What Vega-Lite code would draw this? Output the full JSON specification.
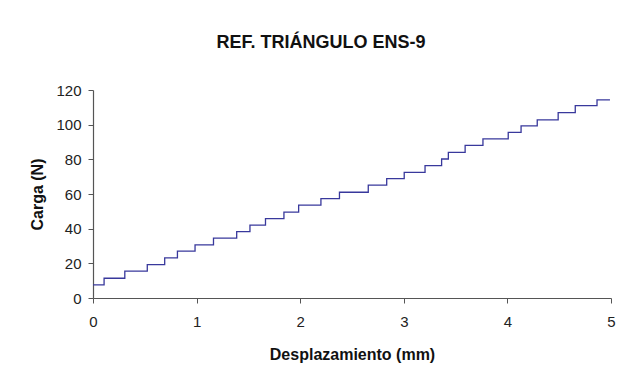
{
  "$schema": "https://vega.github.io/schema/vega-lite/v6.json",
  "autosize": "none",
  "width": 518,
  "height": 208,
  "padding": {"left": 93, "top": 90, "right": 15, "bottom": 75},
  "background": "white",
  "title": {
    "text": "REF. TRIÁNGULO ENS-9",
    "font": "Liberation Sans",
    "fontSize": 18,
    "fontWeight": "bold",
    "color": "#111111",
    "anchor": "middle",
    "dx": -31,
    "offset": 31
  },
  "data": {
    "values": [
      {"d": 0.0, "c": 7.6},
      {"d": 0.107, "c": 11.4},
      {"d": 0.307, "c": 15.5},
      {"d": 0.524, "c": 19.3},
      {"d": 0.692, "c": 23.1},
      {"d": 0.815, "c": 27.0},
      {"d": 0.985, "c": 30.7},
      {"d": 1.163, "c": 34.5},
      {"d": 1.387, "c": 38.3},
      {"d": 1.515, "c": 42.0},
      {"d": 1.665, "c": 45.8},
      {"d": 1.843, "c": 49.5},
      {"d": 1.985, "c": 53.6},
      {"d": 2.2, "c": 57.3},
      {"d": 2.379, "c": 61.0},
      {"d": 2.657, "c": 65.1},
      {"d": 2.835, "c": 68.9},
      {"d": 3.004, "c": 72.5},
      {"d": 3.205, "c": 76.4},
      {"d": 3.365, "c": 80.2},
      {"d": 3.43, "c": 84.0},
      {"d": 3.592, "c": 88.0},
      {"d": 3.764, "c": 91.8},
      {"d": 4.008, "c": 95.5},
      {"d": 4.132, "c": 99.3},
      {"d": 4.288, "c": 102.8},
      {"d": 4.49, "c": 106.9},
      {"d": 4.655, "c": 111.0},
      {"d": 4.865, "c": 114.3},
      {"d": 4.99, "c": 114.3}
    ]
  },
  "mark": {"type": "line", "interpolate": "step-after", "color": "#38389c", "strokeWidth": 1.3},
  "encoding": {
    "x": {
      "field": "d",
      "type": "quantitative",
      "scale": {"domain": [0, 5], "nice": false},
      "axis": {
        "title": "Desplazamiento (mm)",
        "values": [0, 1, 2, 3, 4, 5],
        "grid": false,
        "labelFlush": false,
        "labelPadding": 11,
        "titlePadding": 17
      }
    },
    "y": {
      "field": "c",
      "type": "quantitative",
      "scale": {"domain": [0, 120], "nice": false},
      "axis": {
        "title": "Carga (N)",
        "values": [0, 20, 40, 60, 80, 100, 120],
        "grid": false,
        "labelFlush": false,
        "labelPadding": 7,
        "titlePadding": 10
      }
    }
  },
  "config": {
    "view": {"stroke": null},
    "axis": {
      "domainColor": "#555555",
      "domainWidth": 1.2,
      "tickColor": "#555555",
      "tickSize": 5,
      "labelFont": "Liberation Sans",
      "labelFontSize": 15,
      "labelColor": "#222222",
      "titleFont": "Liberation Sans",
      "titleFontSize": 16,
      "titleFontWeight": "bold",
      "titleColor": "#111111"
    }
  }
}
